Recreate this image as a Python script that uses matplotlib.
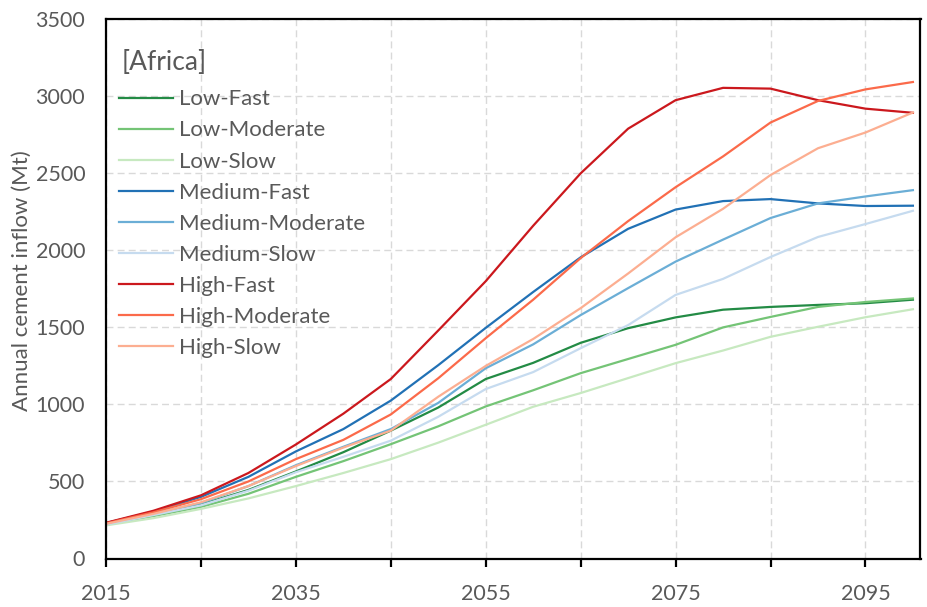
import matplotlib
matplotlib.use("Agg")
import matplotlib.pyplot as plt

plt.rcParams['font.family'] = ['Lato', 'DejaVu Sans']

years = list(range(2015, 2101, 5))

low_fast = [225, 283, 350, 445, 565, 690, 830, 980, 1165, 1270, 1400, 1495, 1565, 1615, 1633, 1646, 1657, 1680]
low_moderate = [222, 275, 335, 420, 530, 632, 742, 858, 987, 1092, 1203, 1295, 1387, 1500, 1568, 1633, 1665, 1688]
low_slow = [215, 262, 322, 390, 470, 555, 645, 752, 868, 985, 1074, 1171, 1268, 1350, 1439, 1504, 1566, 1618]
medium_fast = [230, 305, 400, 530, 695, 840, 1025, 1255, 1497, 1730, 1955, 2140, 2265, 2320, 2333, 2305, 2288, 2290]
medium_moderate = [225, 292, 360, 470, 605, 725, 840, 1010, 1235, 1390, 1580, 1755, 1927, 2070, 2210, 2305, 2350, 2391]
medium_slow = [220, 282, 345, 440, 560, 660, 765, 920, 1100, 1210, 1365, 1515, 1711, 1815, 1957, 2087, 2171, 2257]
high_fast = [232, 310, 410, 555, 740, 940, 1165, 1480, 1800, 2160, 2500, 2790, 2975, 3055, 3050, 2975, 2920, 2893]
high_moderate = [228, 300, 385, 500, 645, 770, 935, 1170, 1430, 1680, 1950, 2190, 2410, 2610, 2830, 2970, 3045, 3093]
high_slow = [225, 290, 365, 470, 600, 720, 830, 1050, 1250, 1425, 1625, 1850, 2085, 2270, 2489, 2663, 2765, 2895]

labels = ['Low-Fast', 'Low-Moderate', 'Low-Slow',
          'Medium-Fast', 'Medium-Moderate', 'Medium-Slow',
          'High-Fast', 'High-Moderate', 'High-Slow']
series = [low_fast, low_moderate, low_slow,
          medium_fast, medium_moderate, medium_slow,
          high_fast, high_moderate, high_slow]
colors = ['#238b45', '#74c476', '#c7e9c0',
          '#2171b5', '#6baed6', '#c6dbef',
          '#cb181d', '#fb6a4a', '#fcae91']

x_ticks = list(range(2015, 2100, 10))
x_labels = [str(t) if (t - 2015) % 20 == 0 else '' for t in x_ticks]
y_ticks = list(range(0, 3501, 500))

text_color = '#595959'

W, H = 928, 607
fig = plt.figure(figsize=(W / 100, H / 100), dpi=100)
ax_left, ax_right, ax_top, ax_bottom = 106, 920.5, 19.3, 558.5
ax = fig.add_axes([ax_left / W, (H - ax_bottom) / H,
                   (ax_right - ax_left) / W, (ax_bottom - ax_top) / H])

for vals, lab, col in zip(series, labels, colors):
    ax.plot(years, vals, color=col, lw=1.6, label=lab)

ax.set_xlim(2015, 2100.8)
ax.set_ylim(0, 3500)
ax.set_xticks(x_ticks)
ax.set_xticklabels(x_labels)
ax.set_yticks(y_ticks)

ax.grid(True, color='#d9d9d9', linestyle=(0, (5, 3)), linewidth=1.0)
ax.set_axisbelow(True)

for s in ax.spines.values():
    s.set_color('black')
    s.set_linewidth(1.6)

ax.tick_params(axis='x', direction='out', length=6, width=1.6, color='black',
               labelsize=15.5, labelcolor=text_color, pad=12)
ax.tick_params(axis='y', length=0, labelsize=15.5, labelcolor=text_color, pad=15)

# axis title, placed by hand in figure pixels
fig.text(22 / W, 1 - 281 / H, 'Annual cement inflow (Mt)', fontsize=16,
         color=text_color, rotation=90, ha='center', va='center')

# region tag above the legend
fig.text(122 / W, 1 - 62 / H, '[Africa]', fontsize=19, color=text_color,
         ha='left', va='center')

legend_top = 76
leg = ax.legend(loc='upper left',
                bbox_to_anchor=(0.0, (ax_bottom - legend_top) / (ax_bottom - ax_top)),
                frameon=False, fontsize=16, labelcolor=text_color,
                handlelength=2.4, handletextpad=0.3, labelspacing=0.5,
                borderaxespad=0.3, borderpad=0.3)

fig.savefig('out.png', dpi=100)
